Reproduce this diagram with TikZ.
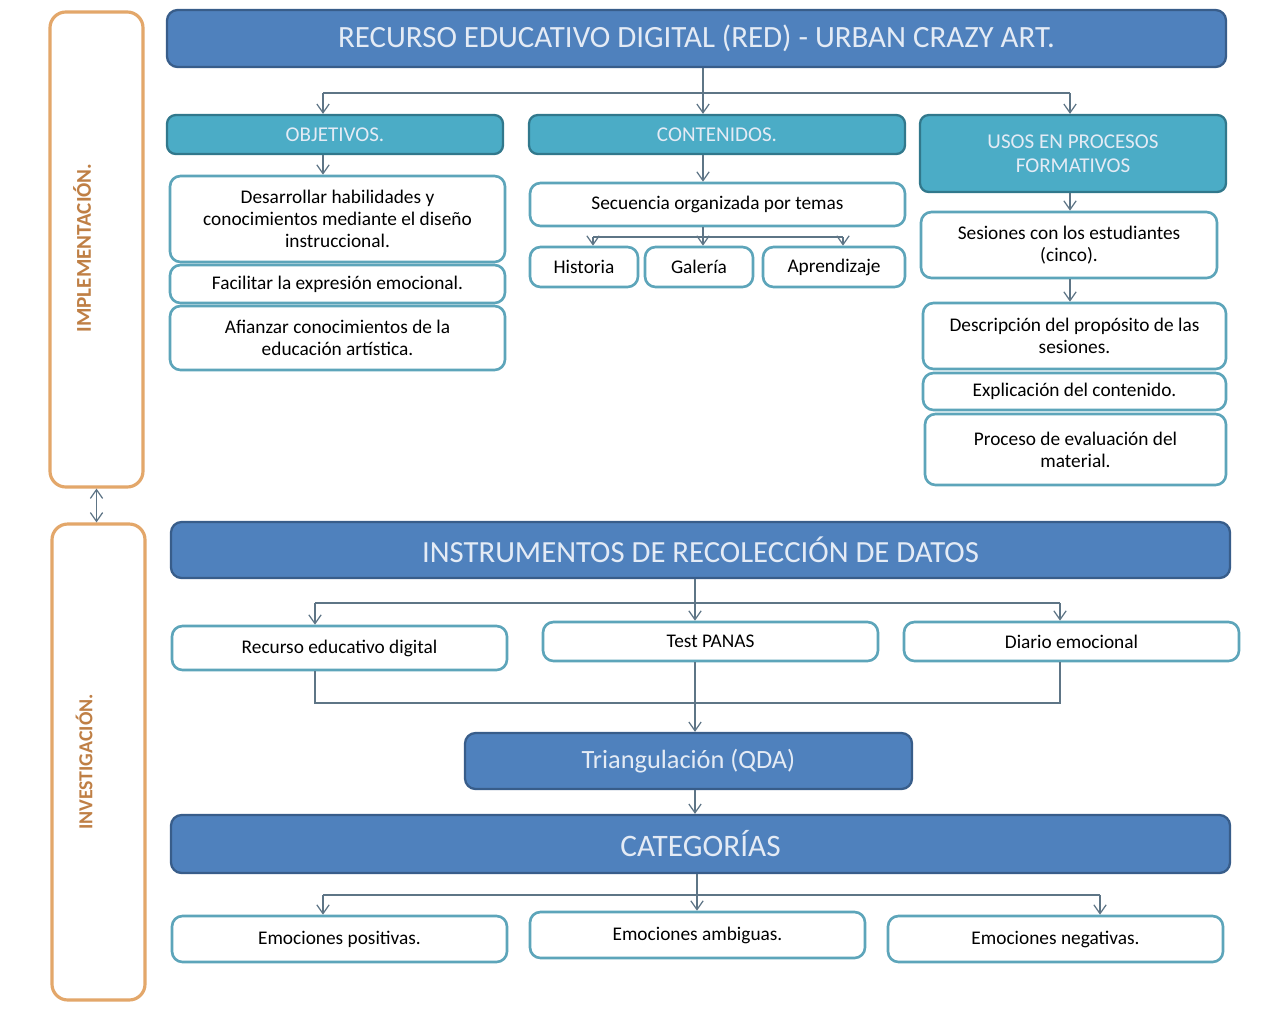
\documentclass[tikz,border=0pt]{standalone}
\usepackage{fontspec}
\setmainfont{Carlito}
\usetikzlibrary{arrows.meta,calc}
\definecolor{dblue}{HTML}{4F81BD}
\definecolor{dblueb}{HTML}{385D8A}
\definecolor{teal1}{HTML}{4BACC6}
\definecolor{tealb}{HTML}{31788C}
\definecolor{wbord}{HTML}{5DA5BA}
\definecolor{orb}{HTML}{E3A76A}
\definecolor{ortx}{HTML}{BF7F45}
\definecolor{connc}{HTML}{5E7586}
\definecolor{titletx}{HTML}{E4EBF5}
\newcommand\mkbox[7]{\node[#6, minimum width={(#4-#2)*0.02cm}, minimum height={(#5-#3)*0.02cm}] (#1) at ({(#2+#4)/2},{(#3+#5)/2}) {#7};}
\begin{document}
\begin{tikzpicture}[x=0.02cm,y=-0.02cm,
 darkbox/.style={draw=dblueb, fill=dblue, line width=1.3pt, rounded corners=6pt, text=titletx, inner sep=0pt},
 tealbox/.style={draw=tealb, fill=teal1, line width=1.3pt, rounded corners=5pt, text=titletx, align=center, inner sep=0pt, font=\fontsize{12}{13.5}\selectfont},
 whitebox/.style={draw=wbord, fill=white, line width=1.5pt, rounded corners=6pt, align=center, inner sep=0pt, font=\fontsize{11}{12.6}\selectfont},
 sidebox/.style={draw=orb, fill=white, line width=1.8pt, rounded corners=9pt, inner sep=0pt},
 sidelabel/.style={rotate=90, text=ortx, font=\bfseries\fontsize{11.5}{13}\selectfont},
 conn/.style={draw=connc, line width=0.7pt},
 arr/.style={conn, -{Straight Barb[length=5pt,width=7pt]}},
 darr/.style={conn, {Straight Barb[length=5pt,width=7pt]}-{Straight Barb[length=5pt,width=7pt]}},
]
\useasboundingbox (0,0) rectangle (1261,1011);
\fill[white] (0,0) rectangle (1261,1011);

% side boxes
\mkbox{impl}{50}{12}{143}{487}{sidebox}{}
\mkbox{inv}{52}{524}{145}{1000}{sidebox}{}
\node[sidelabel, font=\bfseries\fontsize{12}{13}\selectfont] (implt) at (82,248) {IMPLEMENTACIÓN.};
\node[sidelabel, font=\bfseries\fontsize{11.3}{13}\selectfont] (invt) at (84,762) {INVESTIGACIÓN.};
\draw[darr] (impl.south) -- (impl.south |- inv.north);

% top section
\mkbox{red}{167}{10}{1226}{67}{darkbox, font=\fontsize{17.6}{19}\selectfont}{RECURSO EDUCATIVO DIGITAL (RED) - URBAN CRAZY ART.}
\mkbox{obj}{167}{115}{503}{154}{tealbox}{OBJETIVOS.}
\mkbox{cont}{529}{115}{905}{154}{tealbox}{CONTENIDOS.}
\mkbox{usos}{920}{115}{1226}{192}{tealbox}{USOS EN PROCESOS\\FORMATIVOS}

\mkbox{d1}{170}{176}{505}{262}{whitebox}{Desarrollar habilidades y\\conocimientos mediante el diseño\\instruccional.}
\mkbox{d2}{170}{265}{505}{303}{whitebox}{Facilitar la expresión emocional.}
\mkbox{d3}{170}{306}{505}{370}{whitebox}{Afianzar conocimientos de la\\educación artística.}

\mkbox{sec}{530}{183}{905}{226}{whitebox}{Secuencia organizada por temas}
\mkbox{hist}{530}{247}{638}{287}{whitebox}{Historia}
\mkbox{gal}{645}{247}{753}{287}{whitebox}{Galería}
\mkbox{apr}{763}{247}{905}{287}{whitebox}{Aprendizaje}

\mkbox{ses}{921}{212}{1217}{278}{whitebox}{Sesiones con los estudiantes\\(cinco).}
\mkbox{desc}{923}{303}{1226}{369}{whitebox}{Descripción del propósito de las\\sesiones.}
\mkbox{expl}{923}{373}{1226}{410}{whitebox}{Explicación del contenido.}
\mkbox{proc}{925}{414}{1226}{485}{whitebox}{Proceso de evaluación del\\material.}

\coordinate (j1) at (703,93);
\coordinate (j1l) at (323,93);
\coordinate (j1r) at (1070,93);
\draw[conn] (j1 |- red.south) -- (j1);
\draw[conn] (j1l) -- (j1r);
\draw[arr] (j1l) -- (j1l |- obj.north);
\draw[arr] (j1) -- (j1 |- cont.north);
\draw[arr] (j1r) -- (j1r |- usos.north);
\draw[arr] (j1l |- obj.south) -- (j1l |- d1.north);
\draw[arr] (j1 |- cont.south) -- (j1 |- sec.north);

\coordinate (j2) at (703,237);
\coordinate (j2l) at (593,237);
\coordinate (j2r) at (843,237);
\draw[conn] (j1 |- sec.south) -- (j2);
\draw[conn] (j2l) -- (j2r);
\draw[arr] (j2l) -- (j2l |- hist.north);
\draw[arr] (j2) -- (j2 |- gal.north);
\draw[arr] (j2r) -- (j2r |- apr.north);

\draw[arr] (j1r |- usos.south) -- (j1r |- ses.north);
\draw[arr] (j1r |- ses.south) -- (j1r |- desc.north);

% middle section
\mkbox{inst}{171}{522}{1230}{578}{darkbox, font=\fontsize{17.5}{19}\selectfont}{INSTRUMENTOS DE RECOLECCIÓN DE DATOS}
\mkbox{rec}{172}{626}{507}{670}{whitebox}{Recurso educativo digital}
\mkbox{test}{543}{622}{878}{661}{whitebox}{Test PANAS}
\mkbox{dia}{904}{622}{1239}{661}{whitebox}{Diario emocional}

\coordinate (j3) at (695,603);
\coordinate (j3l) at (315,603);
\coordinate (j3r) at (1060,603);
\draw[conn] (j3 |- inst.south) -- (j3);
\draw[conn] (j3l) -- (j3r);
\draw[arr] (j3l) -- (j3l |- rec.north);
\draw[arr] (j3) -- (j3 |- test.north);
\draw[arr] (j3r) -- (j3r |- dia.north);

\mkbox{tri}{465}{733}{912}{789}{darkbox, font=\fontsize{15}{17}\selectfont}{Triangulación (QDA)}
\coordinate (j4l) at (315,703);
\coordinate (j4r) at (1060,703);
\draw[conn] (j4l |- rec.south) -- (j4l) -- (j4r) -- (j4r |- dia.south);
\draw[arr] (j3 |- test.south) -- (j3 |- tri.north);

\mkbox{cat}{171}{815}{1230}{873}{darkbox, font=\fontsize{17.8}{19}\selectfont}{CATEGORÍAS}
\draw[arr] (j3 |- tri.south) -- (j3 |- cat.north);

\mkbox{pos}{172}{916}{507}{962}{whitebox}{Emociones positivas.}
\mkbox{amb}{530}{912}{865}{958}{whitebox}{Emociones ambiguas.}
\mkbox{neg}{888}{916}{1223}{962}{whitebox}{Emociones negativas.}

\coordinate (j5) at (697,895);
\coordinate (j5l) at (323,895);
\coordinate (j5r) at (1100,895);
\draw[conn] (j5 |- cat.south) -- (j5);
\draw[conn] (j5l) -- (j5r);
\draw[arr] (j5l) -- (j5l |- pos.north);
\draw[arr] (j5) -- (j5 |- amb.north);
\draw[arr] (j5r) -- (j5r |- neg.north);
\end{tikzpicture}
\end{document}
